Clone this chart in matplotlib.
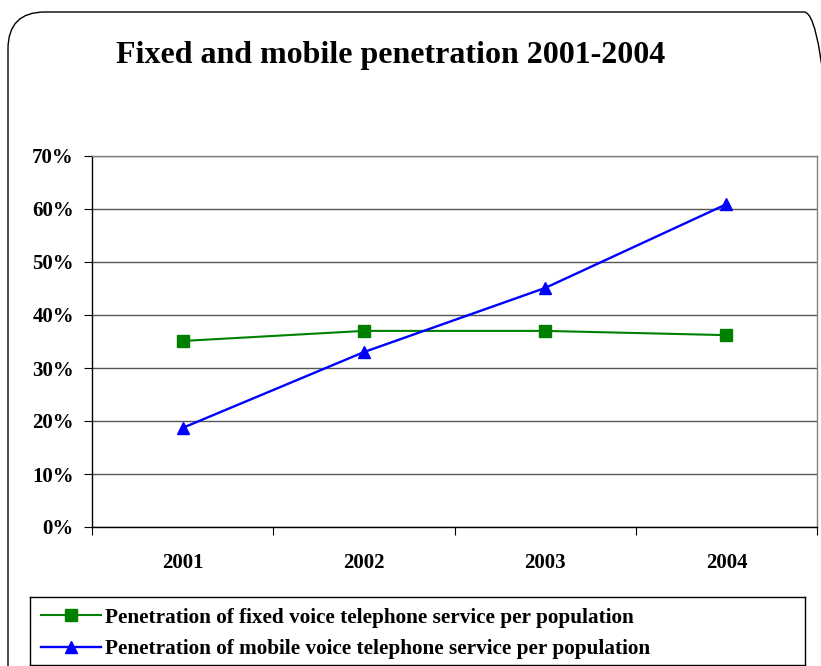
import matplotlib
matplotlib.use("Agg")
import matplotlib.pyplot as plt
from matplotlib.patches import FancyBboxPatch
from matplotlib.ticker import FuncFormatter

years = ["2001", "2002", "2003", "2004"]
fixed = [35.1, 37.0, 37.0, 36.2]
mobile = [18.7, 33.0, 45.1, 60.9]
fixed_label = "Penetration of fixed voice telephone service per population"
mobile_label = "Penetration of mobile voice telephone service per population"
title = "Fixed and mobile penetration 2001-2004"

plt.rcParams['font.family'] = ['Liberation Serif', 'DejaVu Serif']
plt.rcParams['font.weight'] = 'bold'

W, H = 821, 666
fig = plt.figure(figsize=(W / 100, H / 100), dpi=100)

# rounded frame
frame = FancyBboxPatch((8 / W, -0.1), (W - 8 + 20) / W, (H - 12) / H + 0.1,
                       boxstyle="round,pad=0,rounding_size=0.045",
                       transform=fig.transFigure, fill=False,
                       edgecolor="black", linewidth=1.0, mutation_aspect=W / H)
fig.add_artist(frame)

fig.text(391 / W, 1 - 56 / H, title, ha="center", va="center",
         fontsize=23, fontweight="bold")

ax = fig.add_axes([92 / W, 1 - 527 / H, (817 - 92) / W, (527 - 156) / H])
x = list(range(len(years)))
l1, = ax.plot(x, fixed, color="#008000", lw=1.5, marker="s", ms=8,
              markerfacecolor="#008000", markeredgecolor="#008000", label=fixed_label)
l2, = ax.plot(x, mobile, color="#0000FF", lw=1.7, marker="^", ms=9,
              markerfacecolor="#0000FF", markeredgecolor="#0000FF", label=mobile_label)

ax.set_xlim(-0.5, len(years) - 0.5)
ax.set_ylim(0, 70)
ax.set_yticks(range(0, 71, 10))
ax.yaxis.set_major_formatter(FuncFormatter(lambda v, p: f"{int(v)}%"))
ax.set_xticks([i - 0.5 for i in range(len(years) + 1)])
ax.set_xticklabels([])
ax.set_xticks(x, minor=True)
ax.set_xticklabels(years, minor=True)
ax.tick_params(axis="x", which="minor", length=0, pad=19, labelsize=15)
ax.tick_params(axis="x", which="major", direction="out", length=6, color="black")
ax.tick_params(axis="y", direction="out", length=6, color="black", labelsize=15, pad=7)
for lab in ax.get_xticklabels(minor=True) + ax.get_yticklabels():
    lab.set_fontweight("bold")
ax.grid(axis="y", color="#555555", lw=1.0)
ax.set_axisbelow(True)
ax.spines["left"].set_color("black")
ax.spines["bottom"].set_color("black")
ax.spines["top"].set_color("#808080")
ax.spines["right"].set_color("#808080")
for s in ax.spines.values():
    s.set_linewidth(1.0)

leg_ax = fig.add_axes([30 / W, 1 - 665 / H, (805 - 30) / W, (665 - 597) / H])
leg_ax.set_xticks([]); leg_ax.set_yticks([])
for s in leg_ax.spines.values():
    s.set_color("black"); s.set_linewidth(1.0)
leg = leg_ax.legend(handles=[l1, l2], loc="upper left", bbox_to_anchor=(0.0, 1.0),
                    frameon=False, fontsize=15.3, handlelength=2.85, handletextpad=0.2,
                    labelspacing=0.55, borderaxespad=0.25, borderpad=0.25)
for t in leg.get_texts():
    t.set_fontweight("bold")

fig.savefig("out.png", dpi=100)
